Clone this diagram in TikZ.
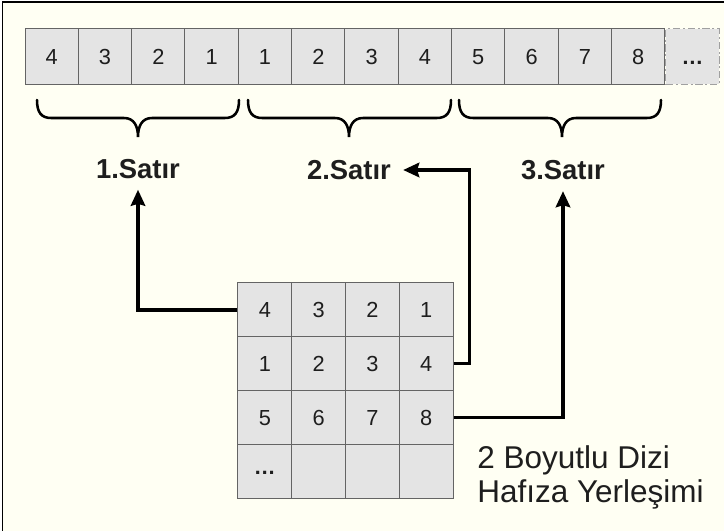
\documentclass[tikz,border=0pt]{standalone}
\usepackage{fontspec}
\setmainfont{Liberation Sans}
\usetikzlibrary{positioning,arrows.meta,calc}
\definecolor{paper}{RGB}{255,255,243}
\definecolor{cellfill}{RGB}{228,228,228}
\definecolor{celldraw}{RGB}{100,100,100}
\definecolor{moredraw}{RGB}{160,160,160}
\definecolor{inkc}{RGB}{30,30,30}
% brace under one row of the array: left x, tip x, right x
\newcommand{\satirbrace}[3]{%
  \draw[brc] (#1,100) .. controls (#1,112) and (#1+4,118) .. (#1+14,118)
    -- (#2-14,118) .. controls (#2-4,118) and (#2,126) .. (#2,137)
    .. controls (#2,126) and (#2+4,118) .. (#2+14,118)
    -- (#3-14,118) .. controls (#3-4,118) and (#3,112) .. (#3,100);}

\begin{document}
\begin{tikzpicture}[x=0.025cm, y=-0.025cm,
  cell/.style={draw=celldraw, fill=cellfill, line width=0.7pt, inner sep=0pt,
    minimum width=1.333cm, minimum height=1.375cm, text height=11pt, text depth=0pt,
    font=\fontsize{15.5}{18}\selectfont, text=inkc},
  mcell/.style={cell, minimum width=1.344cm, minimum height=1.344cm},
  more/.style={cell, draw=moredraw, dash pattern=on 5pt off 2pt on 1.5pt off 2pt},
  satir/.style={font=\fontsize{19.5}{22}\selectfont\bfseries, inner sep=0pt, text=inkc},
  brc/.style={line width=1.8pt, line cap=round},
  link/.style={line width=2.4pt, -{Stealth[length=0.4cm, width=0.36cm, inset=0.05cm]}},
]
\useasboundingbox (0,0) rectangle (724,531);

% ---- paper ----
\fill[white] (0,0) rectangle (724,531);
\fill[paper] (2.5,2) rectangle (724,531);
\draw[line width=1pt] (2.5,531) -- (2.5,2) -- (724,2);

% ---- one-dimensional array ----
\foreach \v [count=\i] in {4,3,2,1,1,2,3,4,5,6,7,8}
  \node[cell] (t\i) at ({25+53.33*(\i-0.5)},56.5) {\v};
\node[more, right=0pt of t12] (t13) {\textbf{\dots}};

% ---- braces ----
\satirbrace{37}{138}{239}
\satirbrace{248}{349}{451}
\satirbrace{459}{562}{661}

% ---- row labels ----
\node[satir] (s1) at (138,169) {1.Satır};
\node[satir] (s2) at (349,170) {2.Satır};
\node[satir] (s3) at (563,170) {3.Satır};

% ---- two-dimensional array ----
\foreach \r/\row in {1/{4,3,2,1},2/{1,2,3,4},3/{5,6,7,8}}
  \foreach \v [count=\c] in \row
    \node[mcell] (m\r\c) at ({238+53.75*(\c-0.5)},{283+53.75*(\r-0.5)}) {\v};
\node[mcell, text height=5pt] (m41) at ({238+53.75*0.5},{283+53.75*3.5}) {\textbf{\dots}};
\foreach \c in {2,3,4}
  \node[mcell] (m4\c) at ({238+53.75*(\c-0.5)},{283+53.75*3.5}) {};

\node[font=\fontsize{22.4}{24.2}\selectfont, align=left, anchor=north west, inner sep=0pt, text=inkc]
  (cap) at (477,445) {2 Boyutlu Dizi\\Hafıza Yerleşimi};

% ---- links ----
\draw[link, shorten >=0.27cm] (m11.west) -| (s1.south);
\draw[link, shorten >=0.3cm] (m24.east) -- ++(16,0) |- (s2.east);
\draw[link, shorten >=0.28cm] (m34.east) -| (s3.south);

\end{tikzpicture}
\end{document}
